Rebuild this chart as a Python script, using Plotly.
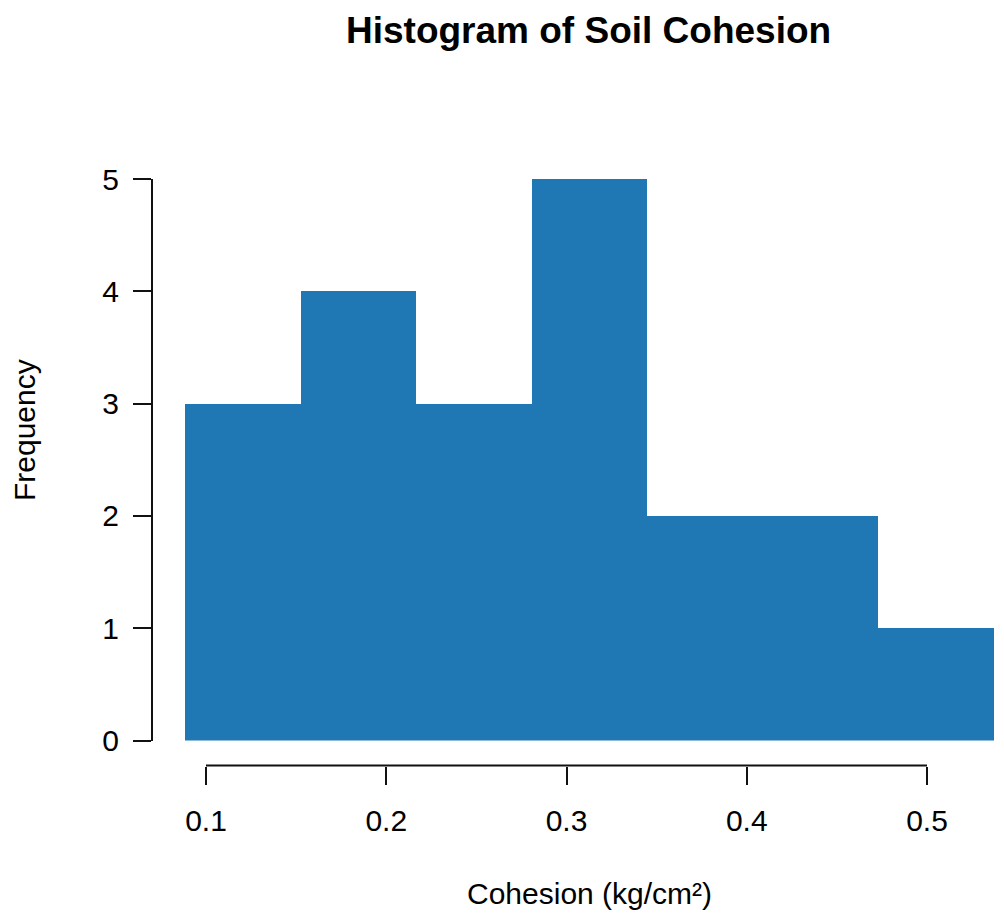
import plotly.graph_objects as go

# bin edges and counts
bin_edges = [0.0884, 0.1525, 0.2166, 0.2807, 0.3448, 0.4089, 0.4730, 0.5371]
counts = [3, 4, 3, 5, 2, 2, 1]

x_ticks = [0.1, 0.2, 0.3, 0.4, 0.5]
x_tick_labels = ["0.1", "0.2", "0.3", "0.4", "0.5"]
y_ticks = [0, 1, 2, 3, 4, 5]

# page body has an 8px margin, so the figure is a bit smaller than the window
OFF = 8
W, H = 1004 - OFF, 924 - OFF
FONT = "Liberation Sans, Arial, sans-serif"


def fx(px):
    return (px - OFF) / W


def fy(py):
    return 1 - (py - OFF) / H


centers = [(a + b) / 2 for a, b in zip(bin_edges[:-1], bin_edges[1:])]
widths = [b - a for a, b in zip(bin_edges[:-1], bin_edges[1:])]

fig = go.Figure()
fig.add_trace(go.Bar(x=centers, y=counts, width=widths,
                     marker=dict(color="#1f77b4", line=dict(width=0)),
                     hoverinfo="x+y"))

# x axis: 0.1 sits at screen px 206, 0.5 at px 927
px_per_unit = (927 - 206) / 0.4
x_lo = 0.1 - (206 - OFF) / px_per_unit
x_hi = x_lo + W / px_per_unit
x_axis_pos = fy(765.5)

fig.update_layout(
    width=W, height=H,
    margin=dict(l=0, r=0, t=0, b=0),
    paper_bgcolor="white", plot_bgcolor="white",
    showlegend=False, bargap=0,
    font=dict(family=FONT, size=30, color="black"),
    xaxis=dict(range=[x_lo, x_hi], domain=[0, 1], anchor="free", position=x_axis_pos,
               showgrid=False, zeroline=False, showline=False,
               tickmode="array", tickvals=x_ticks, ticktext=x_tick_labels,
               ticks="outside", ticklen=18, tickwidth=2, tickcolor="#111",
               ticklabelstandoff=10, tickfont=dict(size=30), automargin=False),
    yaxis=dict(range=[0, 5], domain=[fy(740.5), fy(179)], anchor="free",
               position=fx(152), showgrid=False, zeroline=False,
               showline=True, linewidth=2, linecolor="#111",
               tickmode="array", tickvals=y_ticks,
               ticks="outside", ticklen=18, tickwidth=2, tickcolor="#111",
               ticklabelstandoff=8, tickfont=dict(size=30), automargin=False),
    shapes=[dict(type="line", xref="x", yref="paper",
                 x0=x_ticks[0], x1=x_ticks[-1], y0=x_axis_pos, y1=x_axis_pos,
                 line=dict(color="#111", width=2))],
    annotations=[
        # title as an annotation so it stays inside the top edge
        dict(text="<b>Histogram of Soil Cohesion</b>", xref="paper", yref="paper",
             x=fx(588), y=fy(9), xanchor="center", yanchor="top",
             showarrow=False, borderpad=0, font=dict(size=37)),
        dict(text="Cohesion (kg/cm²)", xref="paper", yref="paper",
             x=fx(589), y=fy(893), xanchor="center", yanchor="middle",
             showarrow=False, font=dict(size=30)),
        dict(text="Frequency", xref="paper", yref="paper",
             x=fx(24), y=fy(430), xanchor="center", yanchor="middle",
             textangle=-90, showarrow=False, font=dict(size=30)),
    ],
)

fig.write_html("out.html")
